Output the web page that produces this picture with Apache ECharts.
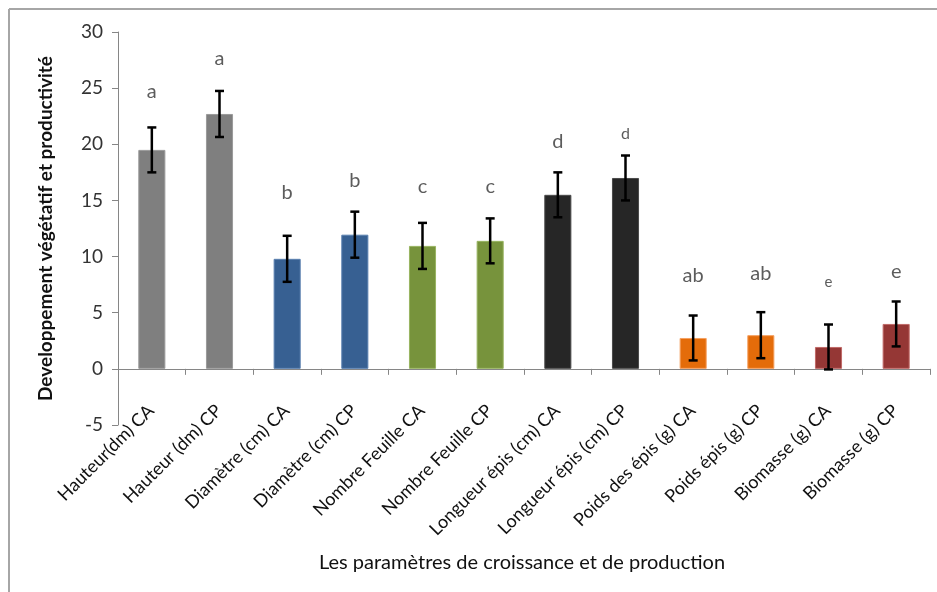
<!DOCTYPE html>
<html>
<head>
<meta charset="utf-8">
<script src="https://cdn.jsdelivr.net/npm/echarts@6/dist/echarts.min.js"></script>
<style>html,body{margin:0;padding:0;background:#fff}#c{width:937px;height:592px}</style>
</head>
<body>
<div id="c"></div>
<script>
var categories = ['Hauteur(dm) CA','Hauteur (dm) CP','Diamètre (cm) CA','Diamètre (cm) CP','Nombre Feuille CA','Nombre Feuille CP','Longueur épis (cm) CA','Longueur épis (cm) CP','Poids des épis (g) CA','Poids épis (g) CP','Biomasse (g) CA','Biomasse (g) CP'];
var means = [19.5, 22.7, 9.8, 11.95, 10.95, 11.4, 15.5, 17.0, 2.75, 3.0, 1.95, 4.0];
var errors = [2.0, 2.05, 2.05, 2.05, 2.05, 2.0, 2.0, 2.0, 2.0, 2.05, 2.0, 2.0];
var letters = ['a','a','b','b','c','c','d','d','ab','ab','e','e'];
var letterY = [24.7, 27.6, 15.7, 16.75, 16.25, 16.2, 20.2, 20.9, 8.3, 8.5, 7.7, 8.7];
var yTicks = [-5, 0, 5, 10, 15, 20, 25, 30];
var xTitle = 'Les paramètres de croissance et de production';

var fills = ['#7F7F7F','#7F7F7F','#376092','#376092','#77933C','#77933C','#262626','#262626','#E46C0A','#E46C0A','#953735','#953735'];
var borders = ['#9a9a9a','#9a9a9a','#5a80b0','#5a80b0','#98b460','#98b460','#4a4a4a','#4a4a4a','#f5a060','#f5a060','#c06a68','#c06a68'];
var letterSizeOverride = {7: 16, 10: 15};

var chart = echarts.init(document.getElementById('c'));
chart.setOption({
  animation: false,
  backgroundColor: '#fff',
  grid: {left: 118, right: 7, top: 32, bottom: 167, containLabel: false, outerBoundsMode: 'none'},
  graphic: [
    {type: 'line', shape: {x1: 9, y1: 9, x2: 937, y2: 9}, style: {stroke: '#a6a6a6', lineWidth: 2}},
    {type: 'line', shape: {x1: 9, y1: 9, x2: 9, y2: 592}, style: {stroke: '#a6a6a6', lineWidth: 2}},
    {type: 'text', x: 522, y: 563, style: {text: xTitle, fontFamily: 'Lato', fontSize: 20, fill: '#111', align: 'center', verticalAlign: 'middle'}}
  ],
  xAxis: {
    type: 'category',
    data: categories,
    axisLine: {onZero: true, lineStyle: {color: '#868686', width: 1}},
    axisTick: {show: true, length: 6, lineStyle: {color: '#868686'}},
    axisLabel: {rotate: 45, margin: -18, padding: [0, 1, 0, 0], interval: 0, color: '#111', fontFamily: 'Lato', fontSize: 18}
  },
  yAxis: {
    type: 'value',
    min: yTicks[0],
    max: yTicks[yTicks.length - 1],
    interval: yTicks[1] - yTicks[0],
    splitLine: {show: false},
    axisLine: {show: true, lineStyle: {color: '#868686'}},
    axisTick: {show: true, length: 6, lineStyle: {color: '#868686'}},
    axisLabel: {margin: 15, color: '#333', fontFamily: 'Lato', fontSize: 19},
    name: 'Developpement végétatif et productivité',
    nameLocation: 'middle',
    nameRotate: 90,
    nameGap: 63,
    nameTextStyle: {fontFamily: 'Lato', fontSize: 19, fontWeight: 'bold', color: '#111'}
  },
  series: [
    {
      type: 'bar',
      barWidth: '40%',
      data: means.map(function (v, i) {
        return {value: v, itemStyle: {color: fills[i], borderColor: borders[i], borderWidth: 1}};
      })
    },
    {
      type: 'custom',
      data: means.map(function (v, i) { return [i, v - errors[i], v + errors[i]]; }),
      renderItem: function (params, api) {
        var lo = api.coord([api.value(0), api.value(1)]);
        var hi = api.coord([api.value(0), api.value(2)]);
        var hw = 4.5;
        var st = {stroke: '#000', lineWidth: 2.5};
        return {type: 'group', children: [
          {type: 'line', shape: {x1: hi[0], y1: hi[1], x2: lo[0], y2: lo[1]}, style: st},
          {type: 'line', shape: {x1: hi[0] - hw, y1: hi[1], x2: hi[0] + hw, y2: hi[1]}, style: st},
          {type: 'line', shape: {x1: lo[0] - hw, y1: lo[1], x2: lo[0] + hw, y2: lo[1]}, style: st}
        ]};
      },
      z: 5
    },
    {
      type: 'scatter',
      symbolSize: 0,
      data: letterY.map(function (v, i) {
        return {value: [i, v], label: {fontSize: letterSizeOverride[i] || 20}};
      }),
      label: {
        show: true,
        position: 'inside',
        color: '#333',
        fontFamily: 'Lato',
        formatter: function (p) { return letters[p.dataIndex]; }
      },
      z: 6
    }
  ]
});
</script>
</body>
</html>
